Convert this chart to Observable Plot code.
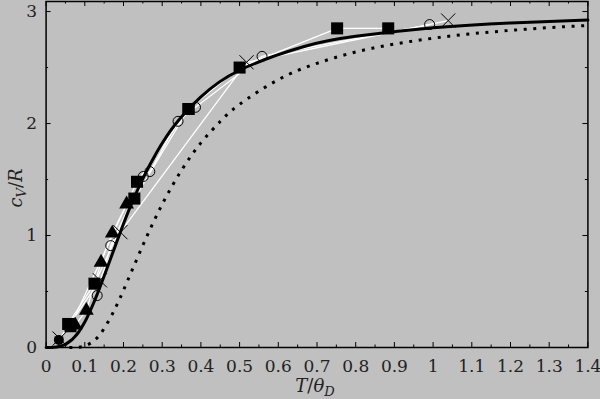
<!DOCTYPE html>
<html><head><meta charset="utf-8">
<script src="https://cdn.jsdelivr.net/npm/d3@7"></script>
<script src="https://cdn.jsdelivr.net/npm/@observablehq/plot@0.6"></script>
<style>
html,body{margin:0;padding:0;background:#c0c0c0;}
#chart{width:600px;height:399px;}
svg{display:block;}
</style></head><body><div id="chart"></div>
<script>
// Debye curve
const debyeT = [0, 0.02, 0.0333, 0.04, 0.05, 0.0667, 0.0714, 0.0833, 0.1, 0.111, 0.125, 0.143, 0.167, 0.2, 0.222, 0.25, 0.286, 0.333, 0.4, 0.5, 0.667, 0.8, 1.0, 1.2, 1.4];
const debyeC = [0, 0.002, 0.009, 0.015, 0.029, 0.069, 0.086, 0.134, 0.227, 0.305, 0.415, 0.573, 0.797, 1.106, 1.294, 1.509, 1.743, 1.989, 2.238, 2.476, 2.688, 2.779, 2.855, 2.899, 2.924];
// Dotted curve
const dotT = [0.06, 0.08, 0.1, 0.125, 0.15, 0.175, 0.2, 0.25, 0.3, 0.35, 0.4, 0.45, 0.5, 0.6, 0.7, 0.8, 0.9, 1.0, 1.1, 1.2, 1.3, 1.4];
const dotC = [0.0, 0.002, 0.014, 0.064, 0.170, 0.325, 0.512, 0.912, 1.279, 1.583, 1.827, 2.019, 2.172, 2.392, 2.538, 2.639, 2.710, 2.762, 2.802, 2.832, 2.857, 2.876];
// Measured series
const squaresT = [0.057, 0.125, 0.228, 0.368, 0.5, 0.752, 0.884];
const squaresC = [0.21, 0.57, 1.33, 2.13, 2.5, 2.85, 2.85];
const squares2T = [0.063, 0.235, 0.368];
const squares2C = [0.19, 1.48, 2.13];
const circlesT = [0.132, 0.167, 0.251, 0.268, 0.341, 0.386, 0.558, 0.991];
const circlesC = [0.464, 0.91, 1.527, 1.571, 2.02, 2.145, 2.6, 2.884];
const crossesT = [0.035, 0.139, 0.192, 0.518, 1.039];
const crossesC = [0.08, 0.6, 1.03, 2.547, 2.92];
const trianglesT = [0.075, 0.104, 0.142, 0.171, 0.208];
const trianglesC = [0.2, 0.33, 0.76, 1.02, 1.28];
const discT = [0.033];
const discC = [0.068];
// Axis ticks
const xTicks = [0, 0.1, 0.2, 0.3, 0.4, 0.5, 0.6, 0.7, 0.8, 0.9, 1.0, 1.1, 1.2, 1.3, 1.4];
const xTickLabels = ["0", "0.1", "0.2", "0.3", "0.4", "0.5", "0.6", "0.7", "0.8", "0.9", "1", "1.1", "1.2", "1.3", "1.4"];
const xMinor = [0.05, 0.15, 0.25, 0.35, 0.45, 0.55, 0.65, 0.75, 0.85, 0.95, 1.05, 1.15, 1.25, 1.35];
const yTicks = [0, 1, 2, 3];
const yTickLabels = ["0", "1", "2", "3"];
const yMinor = [0.5, 1.5, 2.5];

const pts = (T, C, s) => T.map((t, i) => ({T: t, C: C[i], s}));
const debye = pts(debyeT, debyeC, "debye");
const dotted = pts(dotT, dotC, "dot");
const whiteLines = [
  ...pts(squaresT, squaresC, "sq"),
  ...pts(squares2T, squares2C, "sq2"),
  ...pts(circlesT, circlesC, "ci"),
  ...pts(crossesT, crossesC, "cr"),
  ...pts(trianglesT, trianglesC, "tr")
];

const W = 600, H = 399, mL = 45.6, mR = 12.6, mT = 1, mB = 52;
const innerW = W - mL - mR, innerH = H - mT - mB;
const font = "DejaVu Serif";

const plot = Plot.plot({
  width: W, height: H, marginLeft: mL, marginRight: mR, marginTop: mT, marginBottom: mB,
  style: {background: "transparent", fontFamily: font, fontSize: "17px", color: "#222"},
  x: {domain: [0, 1.4]},
  y: {domain: [0, 3.09]},
  marks: [
    Plot.line(dotted, {x: "T", y: "C", stroke: "black", strokeWidth: 3, strokeDasharray: "3,6.6", strokeLinecap: "butt", curve: "natural"}),
    Plot.line(whiteLines, {x: "T", y: "C", z: "s", stroke: "white", strokeWidth: 1.3}),
    Plot.line(debye, {x: "T", y: "C", stroke: "black", strokeWidth: 3, curve: "natural"}),
    Plot.dot(pts(circlesT, circlesC, "ci"), {x: "T", y: "C", symbol: "circle", r: 5, fill: "none", stroke: "black", strokeWidth: 1}),
    Plot.dot(pts(crossesT, crossesC, "cr"), {x: "T", y: "C", symbol: "times", r: 6.5, fill: "none", stroke: "black", strokeWidth: 1}),
    Plot.dot(pts(trianglesT, trianglesC, "tr"), {x: "T", y: "C", symbol: "triangle", r: 5.5, fill: "black", stroke: "none"}),
    Plot.dot(pts(discT, discC, "di"), {x: "T", y: "C", symbol: "circle", r: 5, fill: "black", stroke: "none"}),
    Plot.dot(pts(squaresT, squaresC, "sq"), {x: "T", y: "C", symbol: "square", r: 6.8, fill: "black", stroke: "none"}),
    Plot.dot(pts(squares2T, squares2C, "sq2"), {x: "T", y: "C", symbol: "square", r: 6.8, fill: "black", stroke: "none"}),
    Plot.frame({stroke: "black", strokeWidth: 1.5}),
    Plot.tickX(xTicks, {x: d => d, stroke: "black", insetTop: innerH - 5}),
    Plot.tickX(xTicks, {x: d => d, stroke: "black", insetBottom: innerH - 5}),
    Plot.tickX(xMinor, {x: d => d, stroke: "black", insetTop: innerH - 2.5}),
    Plot.tickX(xMinor, {x: d => d, stroke: "black", insetBottom: innerH - 2.5}),
    Plot.tickY(yTicks, {y: d => d, stroke: "black", insetRight: innerW - 5}),
    Plot.tickY(yTicks, {y: d => d, stroke: "black", insetLeft: innerW - 5}),
    Plot.tickY(yMinor, {y: d => d, stroke: "black", insetRight: innerW - 2.5}),
    Plot.tickY(yMinor, {y: d => d, stroke: "black", insetLeft: innerW - 2.5}),
    Plot.axisX({ticks: xTicks, tickSize: 0, tickPadding: 12, fontSize: 17, label: null,
      tickFormat: d => xTickLabels[Math.round(d * 10)]}),
    Plot.axisY({ticks: yTicks, tickSize: 0, tickPadding: 9, fontSize: 17, label: null,
      tickFormat: d => yTickLabels[Math.round(d)]})
  ]
});
document.getElementById("chart").appendChild(plot);

const svg = d3.select(plot);
const xt = svg.append("text").attr("x", 315).attr("y", 392).attr("text-anchor", "middle")
  .style("font-family", font).style("font-size", "18px").attr("fill", "#222");
xt.append("tspan").attr("font-style", "italic").text("T");
xt.append("tspan").text("/");
xt.append("tspan").attr("font-style", "italic").text("θ");
xt.append("tspan").attr("font-style", "italic").attr("font-size", "13px").attr("dy", "4").text("D");

const yt = svg.append("text").attr("transform", "translate(22,188) rotate(-90)").attr("text-anchor", "middle")
  .style("font-family", font).style("font-size", "18px").attr("fill", "#222");
yt.append("tspan").attr("font-style", "italic").text("c");
yt.append("tspan").attr("font-style", "italic").attr("font-size", "13px").attr("dy", "4").text("V");
yt.append("tspan").attr("dy", "-4").text("/");
yt.append("tspan").attr("font-style", "italic").text("R");
</script>
</body></html>
